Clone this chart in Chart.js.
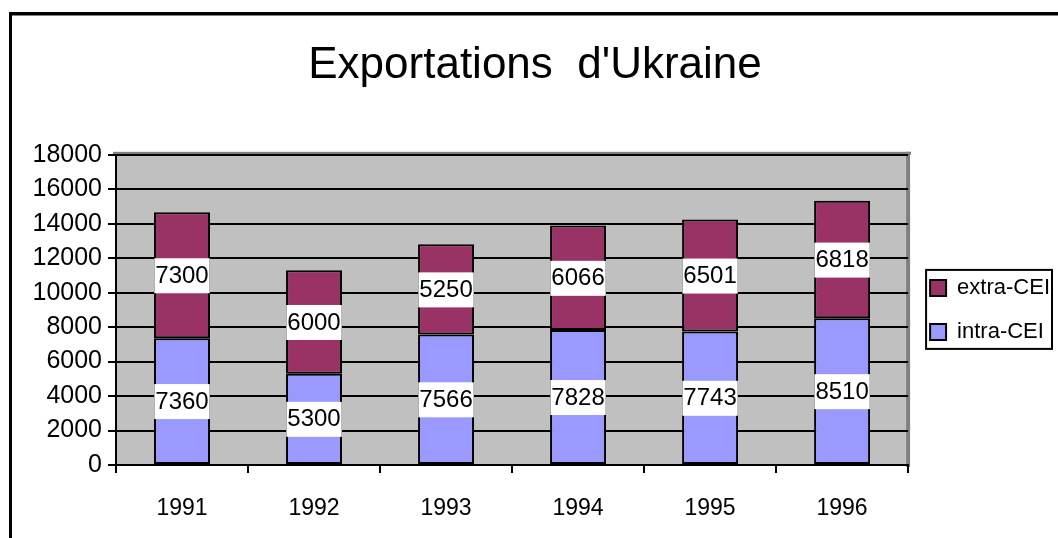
<!DOCTYPE html>
<html>
<head>
<meta charset="utf-8">
<script src="https://cdn.jsdelivr.net/npm/chart.js@4/dist/chart.umd.min.js"></script>
<style>
  html, body { margin: 0; padding: 0; background: #fff; }
  #wrap { width: 1058px; height: 538px; position: relative; }
</style>
</head>
<body>
<div id="wrap"><canvas id="myChart" width="1058" height="538"></canvas></div>
<script>
// chart data
const years = ["1991", "1992", "1993", "1994", "1995", "1996"];
const intraCEI = [7360, 5300, 7566, 7828, 7743, 8510];
const extraCEI = [7300, 6000, 5250, 6066, 6501, 6818];
const seriesNames = ["intra-CEI", "extra-CEI"];
const chartTitle = "Exportations  d'Ukraine";

const FONT = "'Liberation Sans', Arial, Helvetica, sans-serif";
Chart.defaults.font.family = FONT;
Chart.defaults.color = "#000";

// outer frame (only top + left are visible in the original)
const framePlugin = {
  id: "frame",
  beforeDraw(chart) {
    const ctx = chart.ctx;
    ctx.save();
    ctx.fillStyle = "#fff";
    ctx.fillRect(0, 0, chart.width, chart.height);
    ctx.fillStyle = "#000";
    ctx.fillRect(9, 12, chart.width - 9, 3);
    ctx.fillRect(9, 12, 3, chart.height - 12);
    ctx.fillStyle = "#808080";
    ctx.fillRect(12, 15, chart.width - 12, 1);
    ctx.restore();
  }
};

// grey plot area with darker edge on top and right
const plotAreaPlugin = {
  id: "plotArea",
  beforeDraw(chart) {
    const a = chart.chartArea;
    const ctx = chart.ctx;
    ctx.save();
    ctx.fillStyle = "#c0c0c0";
    ctx.fillRect(a.left, a.top, a.right - a.left, a.bottom - a.top);
    ctx.fillStyle = "#808080";
    ctx.fillRect(a.left - 3, a.top - 3, a.right - a.left + 6, 3);
    ctx.fillRect(a.right - 2, a.top - 3, 4, a.bottom - a.top + 5);
    ctx.restore();
  }
};

// value labels on white boxes in the middle of each segment
const labelPlugin = {
  id: "segLabels",
  afterDatasetsDraw(chart) {
    const ctx = chart.ctx;
    ctx.save();
    ctx.font = "24px " + FONT;
    ctx.textAlign = "center";
    ctx.textBaseline = "middle";
    chart.data.datasets.forEach((ds, i) => {
      const meta = chart.getDatasetMeta(i);
      meta.data.forEach((bar, j) => {
        const txt = String(ds.data[j]);
        const cy = (bar.y + bar.base) / 2;
        const w = ctx.measureText(txt).width + 2;
        ctx.fillStyle = "#fff";
        ctx.fillRect(bar.x - w / 2, cy - 17, w, 35);
        ctx.fillStyle = "#000";
        ctx.fillText(txt, bar.x, cy + 1);
      });
    });
    ctx.restore();
  }
};

// border round the legend
const legendBoxPlugin = {
  id: "legendBox",
  afterDraw(chart) {
    const lg = chart.legend;
    if (!lg || !lg.legendHitBoxes.length) return;
    const hb = lg.legendHitBoxes;
    let l = Infinity, t = Infinity, r = -Infinity, b = -Infinity;
    hb.forEach(h => {
      l = Math.min(l, h.left); t = Math.min(t, h.top);
      r = Math.max(r, h.left + h.width); b = Math.max(b, h.top + h.height);
    });
    const ctx = chart.ctx;
    ctx.save();
    ctx.strokeStyle = "#000";
    ctx.lineWidth = 2;
    ctx.strokeRect(l - 4, t - 7, (r - l) + 6, (b - t) + 13);
    ctx.restore();
  }
};

new Chart("myChart", {
  type: "bar",
  data: {
    labels: years,
    datasets: [
      {
        label: seriesNames[0],
        data: intraCEI,
        backgroundColor: "#9999ff",
        borderColor: "#000",
        borderWidth: 2,
        borderSkipped: false
      },
      {
        label: seriesNames[1],
        data: extraCEI,
        backgroundColor: "#993366",
        borderColor: "#000",
        borderWidth: 2,
        borderSkipped: false
      }
    ]
  },
  options: {
    responsive: false,
    animation: false,
    layout: { padding: { left: 10, top: 0, right: -2, bottom: 0 } },
    datasets: {
      bar: { barPercentage: 0.424, categoryPercentage: 1 }
    },
    plugins: {
      title: {
        display: true,
        text: chartTitle,
        font: { size: 44, weight: "normal" },
        color: "#000",
        padding: { top: 39, bottom: 63 }
      },
      legend: {
        position: "right",
        fullSize: false,
        reverse: true,
        labels: {
          boxWidth: 16,
          boxHeight: 16,
          padding: 22,
          font: { size: 22 },
          color: "#000"
        }
      },
      tooltip: { enabled: false }
    },
    scales: {
      x: {
        stacked: true,
        grid: {
          offset: true,
          drawOnChartArea: false,
          color: "#000",
          lineWidth: 2,
          tickLength: 8
        },
        border: { display: true, color: "#000", width: 2 },
        ticks: { font: { size: 23 }, color: "#000", padding: 22 },
        afterFit(s) { s.height = 73; }
      },
      y: {
        stacked: true,
        min: 0,
        max: 18000,
        grid: { color: "#000", lineWidth: 2, tickLength: 8 },
        border: { display: true, color: "#000", width: 2 },
        ticks: {
          stepSize: 2000,
          font: { size: 25 },
          color: "#000",
          padding: 6,
          callback: v => String(v)
        },
        afterFit(s) { s.width = 106; }
      }
    }
  },
  plugins: [framePlugin, plotAreaPlugin, labelPlugin, legendBoxPlugin]
});
</script>
</body>
</html>
